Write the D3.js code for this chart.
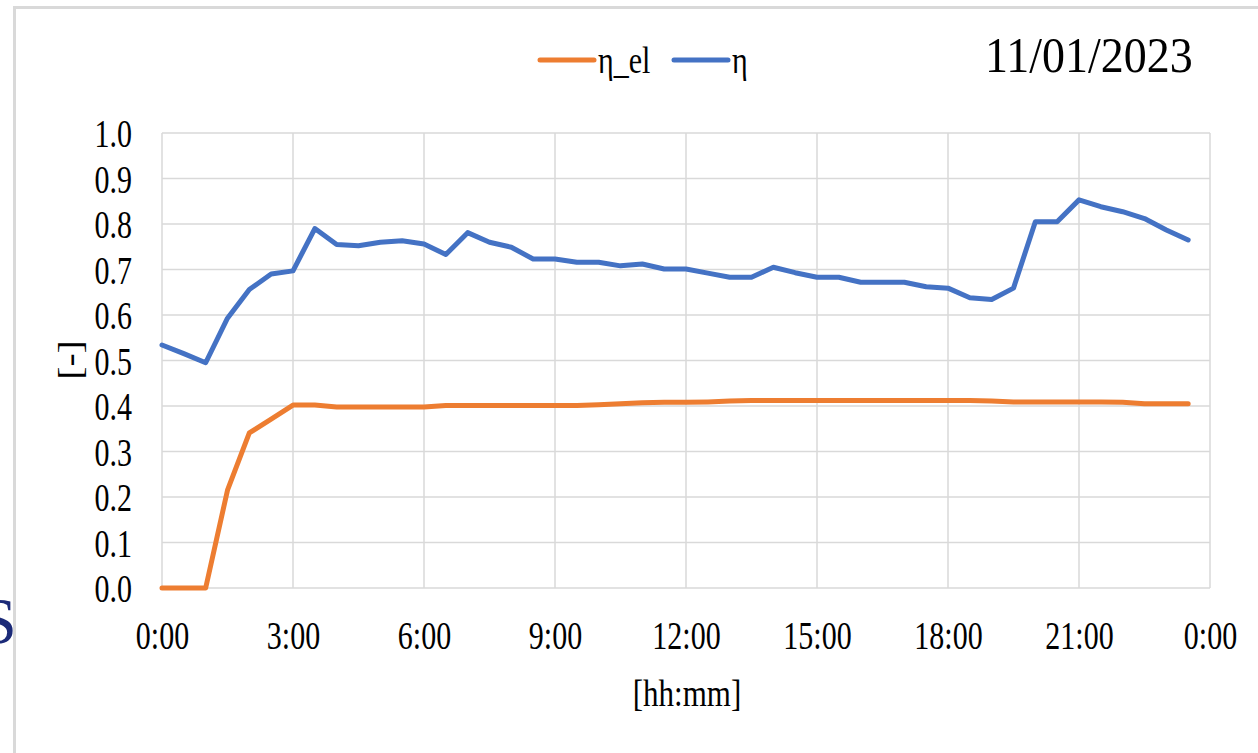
<!DOCTYPE html>
<html>
<head>
<meta charset="utf-8">
<script src="https://cdn.jsdelivr.net/npm/d3@7"></script>
<style>
  html, body { margin: 0; padding: 0; background: #ffffff; }
  svg { display: block; }
  text { font-family: "Liberation Serif", "Times New Roman", serif; fill: #000; }
</style>
</head>
<body>
<svg id="chart" width="1258" height="753"></svg>
<script>
// ---- data ----
const timeLabels = ["0:00","0:30","1:00","1:30","2:00","2:30","3:00","3:30","4:00","4:30","5:00","5:30",
  "6:00","6:30","7:00","7:30","8:00","8:30","9:00","9:30","10:00","10:30","11:00","11:30",
  "12:00","12:30","13:00","13:30","14:00","14:30","15:00","15:30","16:00","16:30","17:00","17:30",
  "18:00","18:30","19:00","19:30","20:00","20:30","21:00","21:30","22:00","22:30","23:00","23:30"];
const etaEl = [0,0,0,0.215,0.341,0.371,0.402,0.402,0.398,0.398,0.398,0.398,
  0.398,0.401,0.401,0.401,0.401,0.401,0.401,0.401,0.403,0.405,0.407,0.408,
  0.408,0.409,0.411,0.412,0.412,0.412,0.412,0.412,0.412,0.412,0.412,0.412,
  0.412,0.412,0.411,0.409,0.409,0.409,0.409,0.409,0.408,0.405,0.405,0.405];
const eta = [0.534,0.515,0.495,0.593,0.656,0.690,0.697,0.790,0.755,0.752,0.760,0.763,
  0.756,0.733,0.781,0.760,0.749,0.723,0.723,0.716,0.716,0.708,0.712,0.701,
  0.701,0.692,0.683,0.683,0.705,0.693,0.683,0.683,0.672,0.672,0.672,0.662,
  0.659,0.638,0.634,0.659,0.805,0.805,0.853,0.838,0.827,0.812,0.787,0.765];
const xTickHours = [0,3,6,9,12,15,18,21,24];
const xTickLabels = ["0:00","3:00","6:00","9:00","12:00","15:00","18:00","21:00","0:00"];
const yTicks = [0,0.1,0.2,0.3,0.4,0.5,0.6,0.7,0.8,0.9,1.0];
const seriesNames = ["η_el","η"];
const seriesColors = ["#ED7D31","#4472C4"];
const dateLabel = "11/01/2023";
const xTitle = "[hh:mm]";
const yTitle = "[-]";

// ---- layout ----
const svg = d3.select("#chart");
const L = 162, R = 1210, T = 133, B = 588;
const hours = timeLabels.map(t => { const [h,m] = t.split(":").map(Number); return h + m/60; });
const x = d3.scaleLinear().domain([0,24]).range([L,R]);
const y = d3.scaleLinear().domain([0,1]).range([B,T]);
const SY = 1.3;
function stretch(sel, s) {
  sel.attr("transform", function(){
    const yy = +(this.getAttribute("y") || 0);
    return `translate(0,${yy}) scale(1,${s}) translate(0,${-yy})`;
  });
}

svg.append("rect").attr("width",1258).attr("height",753).attr("fill","#fff");

// background slide letter, cut off by frame
svg.append("clipPath").attr("id","sclip").append("rect").attr("x",0).attr("y",0).attr("width",13).attr("height",753);
svg.append("text").attr("x",-20).attr("y",643).attr("clip-path","url(#sclip)")
  .style("font-size","66px").style("fill","#1b2a78").text("S");

// frame
svg.append("rect").attr("x",14.5).attr("y",7.5).attr("width",1300).attr("height",800)
  .attr("fill","none").attr("stroke","#d9d9d9").attr("stroke-width",3);

// grid
svg.append("g").selectAll("line").data(yTicks).join("line")
  .attr("x1",L).attr("x2",R).attr("y1",d=>y(d)).attr("y2",d=>y(d))
  .attr("stroke","#d9d9d9").attr("stroke-width",1.5);
svg.append("g").selectAll("line").data(xTickHours).join("line")
  .attr("x1",d=>x(d)).attr("x2",d=>x(d)).attr("y1",T).attr("y2",B)
  .attr("stroke","#d9d9d9").attr("stroke-width",1.5);

// axes
const yAxis = svg.append("g").attr("transform",`translate(${L},0)`)
  .call(d3.axisLeft(y).tickValues(yTicks).tickFormat(d3.format(".1f")).tickSize(0).tickPadding(30));
yAxis.select(".domain").remove();
yAxis.selectAll("text").attr("dy","0.35em").style("font-size","30px").style("font-family",null).attr("fill","#000");
stretch(yAxis.selectAll("text"), SY);

const xAxis = svg.append("g").attr("transform",`translate(0,${B})`)
  .call(d3.axisBottom(x).tickValues(xTickHours).tickFormat((d,i)=>xTickLabels[i]).tickSize(0));
xAxis.select(".domain").remove();
xAxis.selectAll("text").attr("y",61).attr("dy",0).style("font-size","30px").style("font-family",null).attr("fill","#000");
stretch(xAxis.selectAll("text"), SY);

// titles
const xt = svg.append("text").attr("x",(L+R)/2+1).attr("y",706).attr("text-anchor","middle")
  .style("font-size","31px").text(xTitle);
stretch(xt, 1.25);
svg.append("text").attr("transform","translate(81,360) rotate(-90) scale(1.2,1)")
  .attr("text-anchor","middle").style("font-size","33px").text(yTitle);

// lines
const line = d3.line().x((d,i)=>x(hours[i])).y(d=>y(d));
[etaEl, eta].forEach((vals, k) => {
  svg.append("path").datum(vals).attr("d", line)
    .attr("fill","none").attr("stroke",seriesColors[k]).attr("stroke-width",5)
    .attr("stroke-linejoin","round").attr("stroke-linecap","round");
});

// legend
const legendX = [540, 674];
seriesNames.forEach((name, k) => {
  svg.append("line").attr("x1",legendX[k]).attr("x2",legendX[k]+54).attr("y1",60).attr("y2",60)
    .attr("stroke",seriesColors[k]).attr("stroke-width",5).attr("stroke-linecap","round");
  const t = svg.append("text").attr("x",legendX[k]+58).attr("y",73).style("font-size","30px").text(name);
  stretch(t, 1.25);
});

// date
const dt = svg.append("text").attr("x",985).attr("y",72).style("font-size","46px").text(dateLabel);
stretch(dt, 1.1);
</script>
</body>
</html>
